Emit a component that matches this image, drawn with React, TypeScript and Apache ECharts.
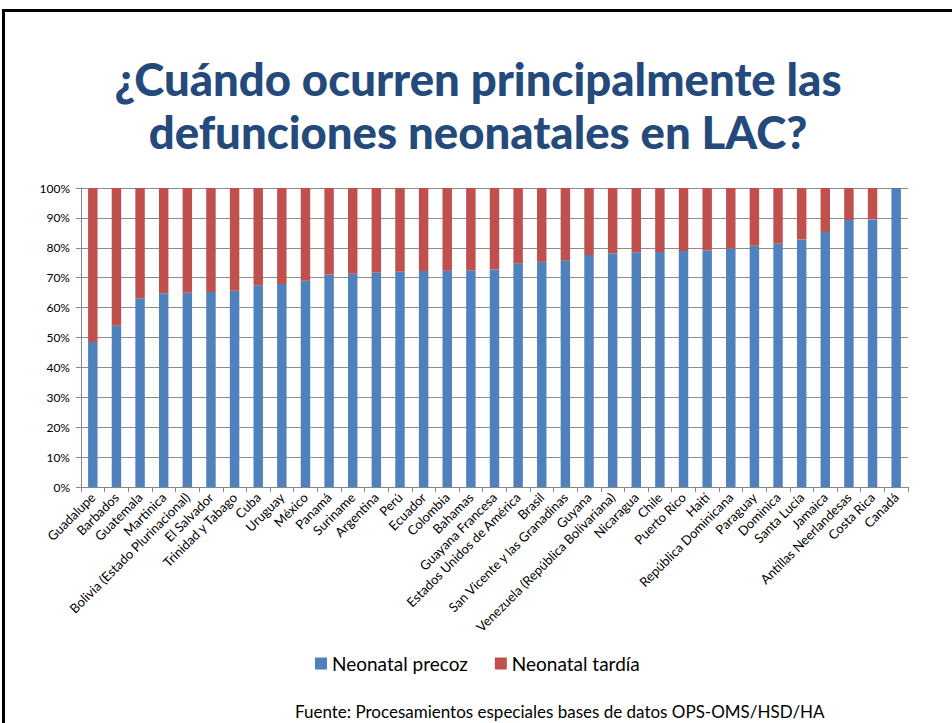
import React, { useEffect, useRef } from "react";
import * as echarts from "echarts";

const categories = [
  "Guadalupe", "Barbados", "Guatemala", "Martinica", "Bolivia (Estado Plurinacional)",
  "El Salvador", "Trinidad y Tabago", "Cuba", "Uruguay", "México", "Panamá", "Suriname",
  "Argentina", "Perú", "Ecuador", "Colombia", "Bahamas", "Guayana Francesa",
  "Estados Unidos de América", "Brasil", "San Vicente y las Granadinas", "Guyana",
  "Venezuela (República Bolivariana)", "Nicaragua", "Chile", "Puerto Rico", "Haití",
  "República Dominicana", "Paraguay", "Dominica", "Santa Lucía", "Jamaica",
  "Antillas Neerlandesas", "Costa Rica", "Canadá",
];

const precoz = [
  48.5, 53.9, 63.1, 64.8, 65.0, 65.2, 65.6, 67.5, 67.9, 69.0, 71.1, 71.3,
  71.7, 72.0, 72.2, 72.3, 72.5, 72.7, 74.8, 75.3, 75.8, 77.6, 78.2, 78.5,
  78.6, 78.9, 79.1, 79.8, 80.7, 81.4, 82.8, 85.3, 89.3, 89.5, 100,
];

const tardia = [
  51.5, 46.1, 36.9, 35.2, 35.0, 34.8, 34.4, 32.5, 32.1, 31.0, 28.9, 28.7,
  28.3, 28.0, 27.8, 27.7, 27.5, 27.3, 25.2, 24.7, 24.2, 22.4, 21.8, 21.5,
  21.4, 21.1, 20.9, 20.2, 19.3, 18.6, 17.2, 14.7, 10.7, 10.5, 0,
];

const seriesNames = ["Neonatal precoz", "Neonatal tardía"];
const titleLines = ["¿Cuándo ocurren principalmente las", "defunciones neonatales en LAC?"];
const sourceText = "Fuente: Procesamientos especiales bases de datos OPS-OMS/HSD/HA";

export default function App() {
  const ref = useRef<HTMLDivElement>(null);
  useEffect(() => {
    if (!ref.current) return;
    const chart = echarts.init(ref.current, null, { renderer: "svg" });
    const font = "Lato, 'Open Sans', sans-serif";
    chart.setOption({
      animation: false,
      backgroundColor: "#ffffff",
      graphic: [
        {
          type: "polyline",
          shape: { points: [[3.5, 723], [3.5, 10.5], [952, 10.5]] },
          style: { stroke: "#000", lineWidth: 3, fill: "none" },
        },
        {
          type: "text",
          x: 478,
          y: 78,
          style: {
            text: titleLines[0],
            font: `900 45.5px ${font}`,
            fill: "#24497b",
            align: "center",
            verticalAlign: "middle",
          },
        },
        {
          type: "text",
          x: 478,
          y: 131,
          style: {
            text: titleLines[1],
            font: `900 45.5px ${font}`,
            fill: "#24497b",
            align: "center",
            verticalAlign: "middle",
          },
        },
        {
          type: "text",
          x: 295,
          y: 711,
          style: {
            text: sourceText,
            font: `17px ${font}`,
            fill: "#000",
            align: "left",
            verticalAlign: "middle",
          },
        },
      ],
      legend: {
        data: seriesNames,
        left: 310,
        top: 649,
        icon: "rect",
        itemWidth: 12,
        itemHeight: 12,
        itemGap: 27,
        textStyle: { fontSize: 19, fontFamily: font, color: "#000" },
      },
      grid: { left: 81, right: 44, top: 188, bottom: 236, containLabel: false },
      xAxis: {
        type: "category",
        data: categories,
        axisLine: { lineStyle: { color: "#868686" } },
        axisTick: { show: true, interval: 0, length: 5, lineStyle: { color: "#868686" } },
        axisLabel: {
          interval: 0,
          rotate: 45,
          fontSize: 13,
          fontFamily: font,
          color: "#000",
          margin: 8,
        },
      },
      yAxis: {
        type: "value",
        min: 0,
        max: 100,
        interval: 10,
        axisLine: { show: true, lineStyle: { color: "#868686" } },
        axisTick: { show: true, length: 5, lineStyle: { color: "#868686" } },
        splitLine: { lineStyle: { color: "#8c8c8c" } },
        axisLabel: {
          formatter: "{value}%",
          fontSize: 12,
          fontFamily: font,
          color: "#000",
          margin: 11,
        },
      },
      series: [
        {
          name: seriesNames[0],
          type: "bar",
          stack: "total",
          data: precoz,
          barWidth: "40%",
          itemStyle: { color: "#4f81bd" },
        },
        {
          name: seriesNames[1],
          type: "bar",
          stack: "total",
          data: tardia,
          barWidth: "40%",
          itemStyle: { color: "#c0504d" },
        },
      ],
    });
    return () => chart.dispose();
  }, []);
  return <div ref={ref} style={{ width: 952, height: 723, position: "absolute", left: 0, top: 0 }} />;
}
